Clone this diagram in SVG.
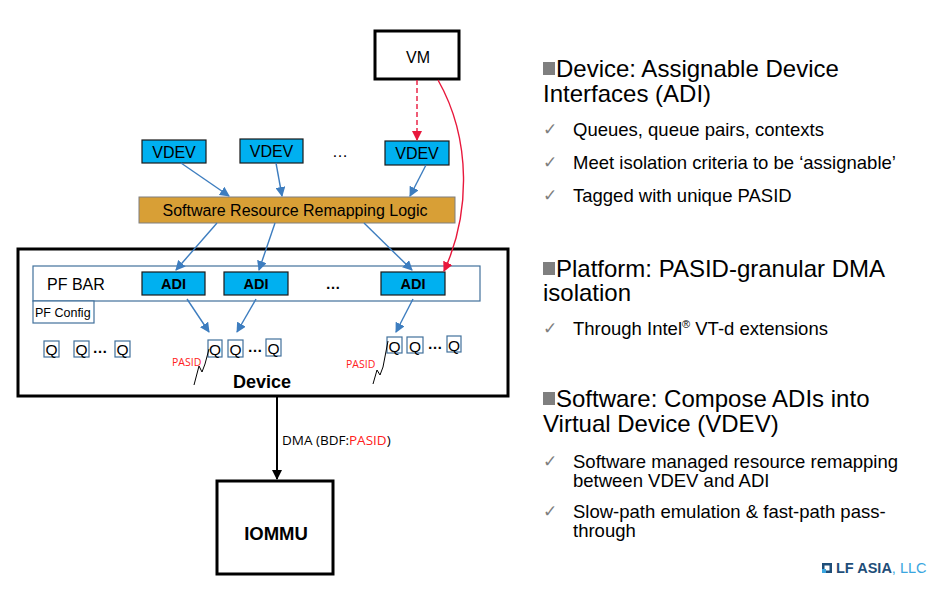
<svg xmlns="http://www.w3.org/2000/svg" width="947" height="592" viewBox="0 0 947 592">
<defs>
<style>
text{font-family:"Liberation Sans",Arial,sans-serif;fill:#000}
.blk{fill:#fff;stroke:#000;stroke-width:3}
.adi{fill:#00b0f0;stroke:#1a1a1a;stroke-width:1.2}
.q{fill:#fff;stroke:#41719c;stroke-width:1.2}
.bar{fill:#fff;stroke:#41719c;stroke-width:1.2}
.blue{stroke:#3d7dbf;stroke-width:1.4;fill:none;marker-end:url(#ab)}
.red{stroke:#e8183c;stroke-width:1.4;fill:none;marker-end:url(#ar)}
.h{font-size:24px}
.b{font-size:18.5px}
.ck{font-size:17px;fill:#7f7f7f}
.sq{fill:#7f7f7f}
.qt{font-size:15.5px}
.pasid{font-family:"Open Sans","Liberation Sans",sans-serif;font-size:10.5px;fill:#ff2020}
</style>
<marker id="ab" markerWidth="10" markerHeight="10" refX="9" refY="5" orient="auto" markerUnits="userSpaceOnUse"><path d="M0,0 L10,5 L0,10 z" fill="#3d7dbf"/></marker>
<marker id="ar" markerWidth="10" markerHeight="10" refX="9" refY="5" orient="auto" markerUnits="userSpaceOnUse"><path d="M0,0 L10,5 L0,10 z" fill="#e8183c"/></marker>
<marker id="ak" markerWidth="10" markerHeight="10" refX="9" refY="5" orient="auto" markerUnits="userSpaceOnUse"><path d="M0,0 L10,5 L0,10 z" fill="#000"/></marker>
</defs>

<g id="device">
<rect class="blk" x="18" y="249" width="490" height="147"/>
<text x="262" y="388" font-size="18" font-weight="bold" text-anchor="middle">Device</text>
</g>
<g id="pfbar">
<rect class="bar" x="33" y="266" width="447" height="35"/>
<text x="47" y="290" font-size="16">PF BAR</text>
<text x="333" y="289" font-size="15" font-weight="bold" text-anchor="middle">…</text>
</g>
<g id="pfconfig">
<rect class="bar" x="33" y="301" width="61" height="22"/>
<text x="35" y="317" font-size="12.5">PF Config</text>
</g>
<g id="adi1"><rect class="adi" x="142" y="272" width="63" height="23"/><text x="173.5" y="289" font-size="14.5" font-weight="bold" text-anchor="middle">ADI</text></g>
<g id="adi2"><rect class="adi" x="224" y="272" width="64" height="23"/><text x="256" y="289" font-size="14.5" font-weight="bold" text-anchor="middle">ADI</text></g>
<g id="adi3"><rect class="adi" x="381" y="272" width="64" height="23"/><text x="413" y="289" font-size="14.5" font-weight="bold" text-anchor="middle">ADI</text></g>

<g id="qgroup1">
<rect class="q" x="44" y="341" width="15" height="16"/><text class="qt" x="51.5" y="355" text-anchor="middle">Q</text>
<rect class="q" x="74" y="341" width="15" height="16"/><text class="qt" x="81.5" y="355" text-anchor="middle">Q</text>
<text x="100" y="353" font-size="15" font-weight="bold" text-anchor="middle">…</text>
<rect class="q" x="115" y="341" width="15" height="16"/><text class="qt" x="122.5" y="355" text-anchor="middle">Q</text>
</g>
<g id="qgroup2">
<rect class="q" x="208" y="340" width="14" height="17"/><text class="qt" x="215" y="355" text-anchor="middle">Q</text>
<rect class="q" x="228" y="340" width="15" height="17"/><text class="qt" x="235.5" y="355" text-anchor="middle">Q</text>
<text x="255" y="352" font-size="15" font-weight="bold" text-anchor="middle">…</text>
<rect class="q" x="266" y="339" width="15" height="17"/><text class="qt" x="273.5" y="354" text-anchor="middle">Q</text>
<text class="pasid" x="172" y="366">PASID</text>
<path d="M194,385 L199,366 L202,372 L205,364 L209,349" fill="none" stroke="#000" stroke-width="1"/>
</g>
<g id="qgroup3">
<rect class="q" x="387" y="337" width="15" height="16"/><text class="qt" x="394.5" y="352" text-anchor="middle">Q</text>
<rect class="q" x="407" y="337" width="16" height="16"/><text class="qt" x="415" y="352" text-anchor="middle">Q</text>
<text x="435" y="349" font-size="15" font-weight="bold" text-anchor="middle">…</text>
<rect class="q" x="447" y="336" width="14" height="16"/><text class="qt" x="454" y="351" text-anchor="middle">Q</text>
<text class="pasid" x="346" y="368">PASID</text>
<path d="M373,384 L377,370 L380,375 L383,367 L388,341" fill="none" stroke="#000" stroke-width="1"/>
</g>

<g id="vm"><rect class="blk" x="375" y="31" width="84" height="48"/><text x="418" y="63" font-size="16" text-anchor="middle">VM</text></g>
<g id="vdev1"><rect class="adi" x="142" y="140" width="64" height="23"/><text x="174" y="157.5" font-size="16" text-anchor="middle">VDEV</text></g>
<g id="vdev2"><rect class="adi" x="240" y="139" width="63" height="24"/><text x="271.5" y="157" font-size="16" text-anchor="middle">VDEV</text></g>
<g id="vdev3"><rect class="adi" x="385" y="141" width="64" height="24"/><text x="417" y="159" font-size="16" text-anchor="middle">VDEV</text></g>
<text x="340" y="157" font-size="16" text-anchor="middle">…</text>
<g id="srrl"><rect x="139" y="197" width="316" height="26" fill="#d89f36" stroke="#7f7f7f" stroke-width="1"/><text x="295" y="215.5" font-size="16" text-anchor="middle">Software Resource Remapping Logic</text></g>

<g id="iommu"><rect class="blk" x="217" y="481" width="116" height="93"/><text x="276" y="540" font-size="18.5" font-weight="bold" text-anchor="middle">IOMMU</text></g>

<g id="connectors">
<line class="blue" x1="181" y1="163" x2="229" y2="196"/>
<line class="blue" x1="276" y1="163" x2="282" y2="196"/>
<line class="blue" x1="426" y1="165" x2="410" y2="196"/>
<line class="blue" x1="217" y1="223" x2="176" y2="270"/>
<line class="blue" x1="275" y1="223" x2="259" y2="270"/>
<line class="blue" x1="364" y1="223" x2="412" y2="270"/>
<line class="blue" x1="187" y1="299" x2="209" y2="332"/>
<line class="blue" x1="256" y1="299" x2="237" y2="332"/>
<line class="blue" x1="413" y1="299" x2="396" y2="332"/>
<line class="red" x1="417" y1="80" x2="417" y2="140" stroke-dasharray="5,3"/>
<path class="red" d="M438,80 C472,140 470,215 444,271"/>
<line x1="277" y1="397" x2="277" y2="479" stroke="#000" stroke-width="2" marker-end="url(#ak)"/>
<text x="282" y="445" font-size="13.5" style="font-family:'Open Sans','Liberation Sans',sans-serif">DMA (BDF:<tspan fill="#ff2020">PASID</tspan>)</text>
</g>

<g id="bullets">
<rect class="sq" x="543" y="62" width="12" height="13"/>
<text class="h" x="556" y="77">Device: Assignable Device</text>
<text class="h" x="543" y="102">Interfaces (ADI)</text>
<text class="ck" x="543" y="135">✓</text><text class="b" x="573" y="136">Queues, queue pairs, contexts</text>
<text class="ck" x="543" y="168">✓</text><text class="b" x="573" y="169">Meet isolation criteria to be ‘assignable’</text>
<text class="ck" x="543" y="201">✓</text><text class="b" x="573" y="202">Tagged with unique PASID</text>

<rect class="sq" x="543" y="262" width="12" height="13"/>
<text class="h" x="556" y="277">Platform: PASID-granular DMA</text>
<text class="h" x="543" y="301">isolation</text>
<text class="ck" x="543" y="334">✓</text><text class="b" x="573" y="335">Through Intel<tspan font-size="11" dy="-7">®</tspan><tspan dy="7"> VT-d extensions</tspan></text>

<rect class="sq" x="543" y="392" width="12" height="13"/>
<text class="h" x="556" y="407">Software: Compose ADIs into</text>
<text class="h" x="543" y="432">Virtual Device (VDEV)</text>
<text class="ck" x="543" y="467">✓</text><text class="b" x="573" y="468">Software managed resource remapping</text>
<text class="b" x="573" y="487">between VDEV and ADI</text>
<text class="ck" x="543" y="517">✓</text><text class="b" x="573" y="518">Slow-path emulation &amp; fast-path pass-</text>
<text class="b" x="573" y="537">through</text>
</g>

<g id="logo">
<path d="M822,563 h10 v10 h-10 z M824.5,565.5 v5 h5 v-5 z" fill="#1f4e79" fill-rule="evenodd"/>
<rect x="822" y="569" width="4" height="4" fill="#3aa6e0"/>
<text x="836" y="573" font-size="14.5" font-weight="bold" style="fill:#1f4e79">LF ASIA<tspan font-weight="normal" style="fill:#3aa6e0">, LLC</tspan></text>
</g>
</svg>
